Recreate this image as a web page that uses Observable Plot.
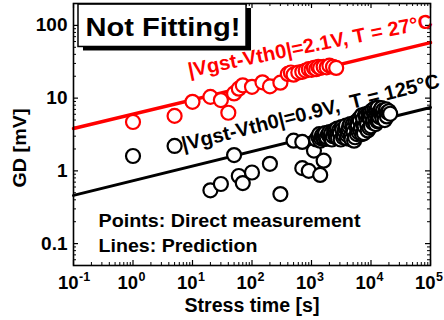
<!DOCTYPE html>
<html>
<head>
<meta charset="utf-8">
<script src="https://cdn.jsdelivr.net/npm/d3@7"></script>
<script src="https://cdn.jsdelivr.net/npm/@observablehq/plot@0.6"></script>
<style>
  html, body { margin: 0; padding: 0; background: #fff; }
  svg { display: block; }
</style>
</head>
<body>
<div id="chart"></div>
<script>
// ---- Data ----
// Red: |Vgst-Vth0| = 2.1 V, T = 27 °C (direct measurement)
const redTime = [1, 5, 10, 20, 30, 40, 50, 60, 70, 100, 150, 200, 300, 400, 450, 500, 600, 700, 800, 900, 1000, 1100, 1200, 1300, 1400, 1600, 1800, 2000, 2300, 2600];
const redGD   = [4.7, 5.7, 8.9, 10.4, 9.4, 6.3, 11.6, 13.5, 15, 14.3, 16.5, 14.5, 16.3, 21.5, 22.5, 21, 22.5, 23, 24, 25, 24.5, 26, 25, 27, 26, 27, 26.5, 28, 27, 26];

// Black: |Vgst-Vth0| = 0.9 V, T = 125 °C (direct measurement)
const blackTime = [1, 5, 20, 30, 50, 60, 70, 100, 200, 300, 500, 700, 700, 900, 1100, 1300, 1400, 1600,
  1200, 1300, 1350, 1400, 1450, 1500, 1550, 1600, 1650, 1700, 1750, 1800, 1900, 2000, 2050, 2100, 2150, 2200, 2300, 2400, 2450, 2500,
  2600, 2700, 2750, 2800, 2900, 3000, 3100, 3200, 3300, 3400, 3500, 3600, 3700, 3800, 3900, 4000, 4100, 4200, 4300, 4500, 4600,
  4700, 4900, 5000, 5100, 5200, 5400, 5500, 5700, 5800, 5900, 6000, 6200, 6300, 6500, 6600, 6800, 7000, 7100, 7300, 7400, 7600,
  7800, 8000, 8200, 8400, 8600, 8800, 9000, 9200, 9400, 9600, 9800, 10000, 10200, 10500, 10800, 11000, 11200, 11500, 11800,
  12000, 12200, 12500, 12800, 13000, 13200, 13500, 13800, 14000, 14500, 15000, 15200, 15500, 16000, 16500, 17000, 17500,
  18000, 18500, 19000, 20000, 21000];
const blackGD = [1.6, 2.2, 0.54, 0.66, 1.65, 0.85, 0.68, 0.95, 1.25, 0.48, 2.6, 2.5, 1.09, 1.0, 1.9, 2.95, 0.88, 1.38,
  2.7, 2.95, 3.2, 2.6, 2.8, 3.1, 2.9, 2.8, 3.1, 3.3, 2.75, 2.9, 3.2, 3.4, 2.9, 3.0, 3.3, 2.7, 3.0, 3.6, 3.4, 3.1,
  2.9, 3.8, 3.2, 2.8, 3.6, 3.3, 2.7, 4.0, 3.7, 2.9, 3.1, 3.5, 3.9, 4.2, 2.8, 3.1, 3.4, 3.7, 4.1, 4.4, 3.0,
  2.7, 4.3, 3.9, 3.4, 2.6, 2.9, 4.7, 4.0, 3.2, 4.6, 4.2, 3.4, 5.2, 4.9, 3.6, 4.0, 5.8, 3.2, 4.4, 5.2, 3.3,
  4.1, 6.0, 5.6, 4.8, 4.3, 3.6, 6.2, 5.4, 3.9, 6.3, 5.1, 4.1, 5.9, 6.8, 4.6, 5.0, 6.4, 7.2, 5.4,
  4.4, 6.9, 5.8, 4.8, 7.4, 6.2, 4.9, 5.5, 6.4, 6.9, 7.3, 6.0, 5.3, 6.8, 5.8, 5.0, 6.6,
  7.0, 5.6, 6.4, 6.6, 6.1];

// Prediction lines (straight on log-log): end points
const lineTime    = [0.1, 1e5];
const redLineGD   = [3.82, 58];
const blackLineGD = [0.46, 7.45];

// Axis ticks
const xMajor = [0.1, 1, 10, 100, 1000, 10000, 100000];
const xExp   = ["-1", "0", "1", "2", "3", "4", "5"];
const yMajor = [0.1, 1, 10, 100];
const yLabels = ["0.1", "1", "10", "100"];

// ---- Build tables ----
const red = redTime.map((t, i) => ({t, gd: redGD[i]}));
const black = blackTime.map((t, i) => ({t, gd: blackGD[i]}));
const redLine = lineTime.map((t, i) => ({t, gd: redLineGD[i]}));
const blackLine = lineTime.map((t, i) => ({t, gd: blackLineGD[i]}));

const xMinor = [];
for (let e = -1; e < 5; e++) for (let m = 2; m <= 9; m++) xMinor.push(m * 10 ** e);
const yMinor = [];
for (let e = -2; e <= 2; e++) for (let m = 2; m <= 9; m++) { const v = m * 10 ** e; if (v >= 0.05 && v <= 200) yMinor.push(v); }

const W = 444, H = 320, mL = 73, mR = 14, mT = 3, mB = 55;
const fw = W - mL - mR, fh = H - mT - mB;
const FONT = "'Liberation Sans', Arial, Helvetica, sans-serif";

const chart = Plot.plot({
  width: W, height: H,
  marginLeft: mL, marginRight: mR, marginTop: mT, marginBottom: mB,
  style: {fontFamily: FONT, background: "#fff", overflow: "visible"},
  x: {type: "log", domain: [0.1, 1e5], axis: null},
  y: {type: "log", domain: [0.05, 200], axis: null},
  marks: [
    // inward ticks on all four sides
    Plot.tickX(xMinor, {x: d => d, insetTop: fh - 3, stroke: "#000", strokeWidth: 1}),
    Plot.tickX(xMajor, {x: d => d, insetTop: fh - 5, stroke: "#000", strokeWidth: 1.2}),
    Plot.tickX(xMinor, {x: d => d, insetBottom: fh - 3, stroke: "#000", strokeWidth: 1}),
    Plot.tickX(xMajor, {x: d => d, insetBottom: fh - 5, stroke: "#000", strokeWidth: 1.2}),
    Plot.tickY(yMinor, {y: d => d, insetRight: fw - 3, stroke: "#000", strokeWidth: 1}),
    Plot.tickY(yMajor, {y: d => d, insetRight: fw - 5, stroke: "#000", strokeWidth: 1.2}),
    Plot.tickY(yMinor, {y: d => d, insetLeft: fw - 3, stroke: "#000", strokeWidth: 1}),
    Plot.tickY(yMajor, {y: d => d, insetLeft: fw - 5, stroke: "#000", strokeWidth: 1.2}),

    // prediction lines
    Plot.line(redLine, {x: "t", y: "gd", stroke: "#ff0000", strokeWidth: 3.5}),
    Plot.line(blackLine, {x: "t", y: "gd", stroke: "#000", strokeWidth: 3}),

    // measured points
    Plot.dot(black, {x: "t", y: "gd", r: 7, stroke: "#000", fill: "#fff", strokeWidth: 2.2}),
    Plot.dot(red, {x: "t", y: "gd", r: 7, stroke: "#ff0000", fill: "#fff", strokeWidth: 2.2}),

    // "Not Fitting!" box with shadow
    Plot.rect([{x1: 0.1213, x2: 80.9, y1: 50.5, y2: 193.8}], {x1: "x1", x2: "x2", y1: "y1", y2: "y2", fill: "#000", dx: 5, dy: 4}),
    Plot.rect([{x1: 0.1213, x2: 80.9, y1: 50.5, y2: 193.8}], {x1: "x1", x2: "x2", y1: "y1", y2: "y2", fill: "#fff", stroke: "#000", strokeWidth: 1.5}),
    Plot.text(["Not Fitting!"], {x: 3.19, y: 72.6, text: d => d, fontSize: 25, fontWeight: "bold", fill: "#000", textAnchor: "middle", lineAnchor: "bottom"}),

    // series labels along the lines
    Plot.text(["|Vgst-Vth0|=2.1V, T = 27°C"], {x: 8.9, y: 19.5, text: d => d, rotate: -11.5, fontSize: 20, fontWeight: "bold", fill: "#ff0000", textAnchor: "start", lineAnchor: "bottom"}),
    Plot.text(["|Vgst-Vth0|=0.9V,  T = 125°C"], {x: 7.06, y: 1.875, text: d => d, rotate: -14, fontSize: 20, fontWeight: "bold", fill: "#000", textAnchor: "start", lineAnchor: "bottom"}),

    // legend notes
    Plot.text(["Points: Direct measurement"], {x: 0.263, y: 0.1665, text: d => d, fontSize: 18.5, fontWeight: "bold", fill: "#000", textAnchor: "start", lineAnchor: "bottom"}),
    Plot.text(["Lines: Prediction"], {x: 0.263, y: 0.0762, text: d => d, fontSize: 18.5, fontWeight: "bold", fill: "#000", textAnchor: "start", lineAnchor: "bottom"}),

    // tick labels
    Plot.text(yMajor, {y: d => d, text: (d, i) => yLabels[i], frameAnchor: "left", textAnchor: "end", lineAnchor: "middle", dx: -6, fontSize: 19, fontWeight: "bold", fill: "#000"}),
    Plot.text(xMajor, {x: d => d, text: () => "10", frameAnchor: "bottom", textAnchor: "end", lineAnchor: "bottom", dx: 5, dy: 23, fontSize: 18.5, fontWeight: "bold", fill: "#000"}),
    Plot.text(xMajor, {x: d => d, text: (d, i) => xExp[i], frameAnchor: "bottom", textAnchor: "start", lineAnchor: "bottom", dx: 5.5, dy: 15, fontSize: 12.5, fontWeight: "bold", fill: "#000"}),

    // axis titles
    Plot.text(["Stress time [s]"], {x: 100, text: d => d, frameAnchor: "bottom", textAnchor: "middle", lineAnchor: "bottom", dy: 46, fontSize: 19.5, fontWeight: "bold", fill: "#000"}),
    Plot.text(["GD [mV]"], {y: 2.06, text: d => d, frameAnchor: "left", rotate: -90, textAnchor: "middle", lineAnchor: "bottom", dx: -48, fontSize: 19, fontWeight: "bold", fill: "#000"}),

    Plot.frame({stroke: "#000", strokeWidth: 1.6})
  ]
});

// stretch some texts to the reference widths
const widths = {
  "Not Fitting!": 155,
  "|Vgst-Vth0|=2.1V, T = 27°C": 249,
  "|Vgst-Vth0|=0.9V,  T = 125°C": 265,
  "Points: Direct measurement": 262,
  "Lines: Prediction": 159,
  "Stress time [s]": 135,
  "GD [mV]": 79
};
chart.querySelectorAll("text").forEach(t => {
  const w = widths[t.textContent];
  if (w) { t.setAttribute("textLength", w); t.setAttribute("lengthAdjust", "spacingAndGlyphs"); t.style.whiteSpace = "pre"; }
});
document.getElementById("chart").appendChild(chart);
</script>
</body>
</html>
